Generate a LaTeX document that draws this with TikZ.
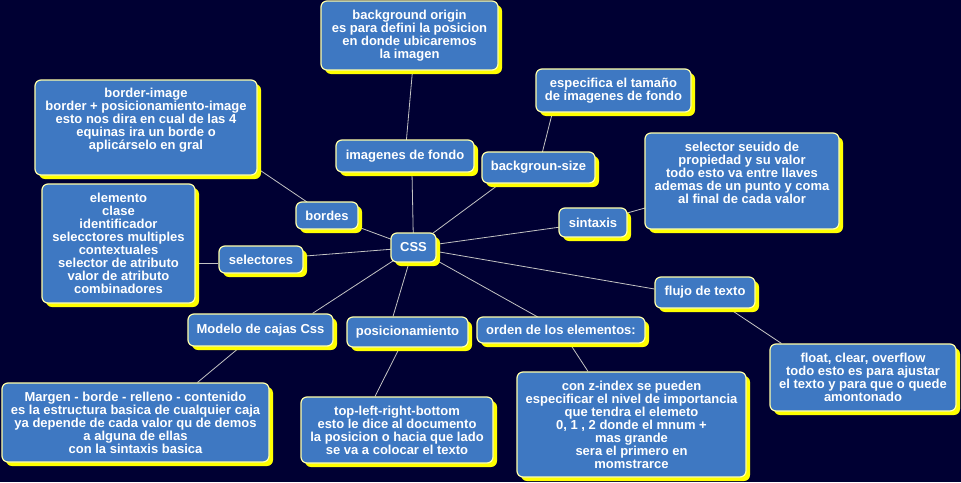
\documentclass[tikz,border=0pt]{standalone}
\usepackage{fontspec}
\setmainfont{Liberation Sans}
\usetikzlibrary{shadows,backgrounds,calc}
\definecolor{bgc}{RGB}{0,0,51}
\definecolor{boxc}{RGB}{62,120,194}
\definecolor{edgec}{RGB}{255,255,170}
\definecolor{shc}{RGB}{255,255,0}
\definecolor{linec}{RGB}{195,195,195}
\tikzset{
  mbox/.style={draw=edgec, line width=1.2pt, fill=boxc, rounded corners=6pt,
    text=white, font=\fontsize{13}{13}\selectfont\bfseries, align=center, inner sep=0pt,
    drop shadow={shadow xshift=4pt, shadow yshift=-4pt, fill=shc, opacity=1}},
  conn/.style={draw=linec, line width=0.8pt},
}
\begin{document}
\begin{tikzpicture}[x=1pt,y=-1pt]
\useasboundingbox (0,0) rectangle (961,482);
% nodes
\node[mbox, minimum width=177pt, minimum height=69pt] (orig) at (409.5,35.5)
  {background origin\\es para defini la posicion\\en donde ubicaremos\\la imagen};
\node[mbox, minimum width=222pt, minimum height=95pt] (bimg) at (146,127.5)
  {border-image\\border + posicionamiento-image\\esto nos dira en cual de las 4\\equinas ira un borde o\\aplicárselo en gral\\\strut};
\node[mbox, minimum width=153pt, minimum height=119pt] (elem) at (118.5,243.5)
  {elemento\\clase\\identificador\\selecctores multiples\\contextuales\\selector de atributo\\valor de atributo\\combinadores};
\node[mbox, minimum width=138pt, minimum height=32pt] (img) at (405,156) {imagenes de fondo};
\node[mbox, minimum width=62pt, minimum height=27pt] (bordes) at (327,215.5) {bordes};
\node[mbox, minimum width=45pt, minimum height=29pt] (css) at (413.5,247.5) {CSS};
\node[mbox, minimum width=84pt, minimum height=27pt] (sel) at (261,259.5) {selectores};
\node[mbox, minimum width=145pt, minimum height=32pt] (modelo) at (260.5,330) {Modelo de cajas Css};
\node[mbox, minimum width=121pt, minimum height=30pt] (pos) at (407.5,332) {posicionamiento};
\node[mbox, minimum width=267pt, minimum height=79pt] (margen) at (135.5,422.5)
  {Margen - borde - relleno - contenido\\es la estructura basica de cualquier caja\\ya depende de cada valor qu de demos\\a alguna de ellas\\con la sintaxis basica};
\node[mbox, minimum width=192pt, minimum height=66pt] (tlrb) at (397,430)
  {top-left-right-bottom\\esto le dice al documento\\la posicion o hacia que lado\\se va a colocar el texto};
\node[mbox, minimum width=155pt, minimum height=43pt] (esp) at (613.5,90.5)
  {especifica el tamaño\\de imagenes de fondo};
\node[mbox, minimum width=113pt, minimum height=31pt] (bsize) at (538.5,167.5) {backgroun-size};
\node[mbox, minimum width=194pt, minimum height=96pt] (ssel) at (742,181)
  {selector seuido de\\propiedad y su valor\\todo esto va entre llaves\\ademas de un punto y coma\\al final de cada valor\\\strut};
\node[mbox, minimum width=68pt, minimum height=29pt] (sint) at (593,222.5) {sintaxis};
\node[mbox, minimum width=100pt, minimum height=31pt] (flujo) at (705,292.5) {flujo de texto};
\node[mbox, minimum width=168pt, minimum height=26pt] (orden) at (561,330) {orden de los elementos:};
\node[mbox, minimum width=186pt, minimum height=67pt] (float) at (863,377.5)
  {float, clear, overflow\\todo esto es para ajustar\\el texto y para que o quede\\amontonado};
\node[mbox, minimum width=229pt, minimum height=105pt] (zidx) at (631.5,424.5)
  {con z-index se pueden\\especificar el nivel de importancia\\que tendra el elemeto\\0, 1 , 2 donde el mnum +\\mas grande\\sera el primero en\\momstrarce};
% background and connectors
\begin{scope}[on background layer]
\fill[bgc] (0,0) rectangle (961,482);
\draw[conn] (css.center) -- ([xshift=7pt]img.south);
\draw[conn] (img.center) -- ([xshift=3pt]orig.south);
\draw[conn] (css.center) -- (bordes.center);
\draw[conn] (bordes.center) -- ([yshift=7pt]bimg.south east);
\draw[conn] (css.center) -- (sel.center);
\draw[conn] ([yshift=-3.5pt]sel.west) -- ([yshift=-3.5pt]sel.west -| elem.east);
\draw[conn] (css.center) -- ([xshift=52pt]modelo.north);
\draw[conn] (modelo.center) -- ([xshift=62pt]margen.north);
\draw[conn] (css.center) -- ([xshift=-14.5pt]pos.north);
\draw[conn] (pos.center) -- ([xshift=-22pt]tlrb.north);
\draw[conn] (css.center) -- (orden.center);
\draw[conn] (orden.center) -- ([xshift=-43.5pt]zidx.north);
\draw[conn] (css.center) -- ([yshift=3.5pt]flujo.west);
\draw[conn] (flujo.center) -- ([xshift=12pt]float.north west);
\draw[conn] (css.center) -- (sint.center);
\draw[conn] (sint.center) -- (ssel.center);
\draw[conn] (css.center) -- ([xshift=-38.5pt]bsize.south);
\draw[conn] (bsize.center) -- ([xshift=17pt]esp.south west);
\end{scope}
\end{tikzpicture}
\end{document}
